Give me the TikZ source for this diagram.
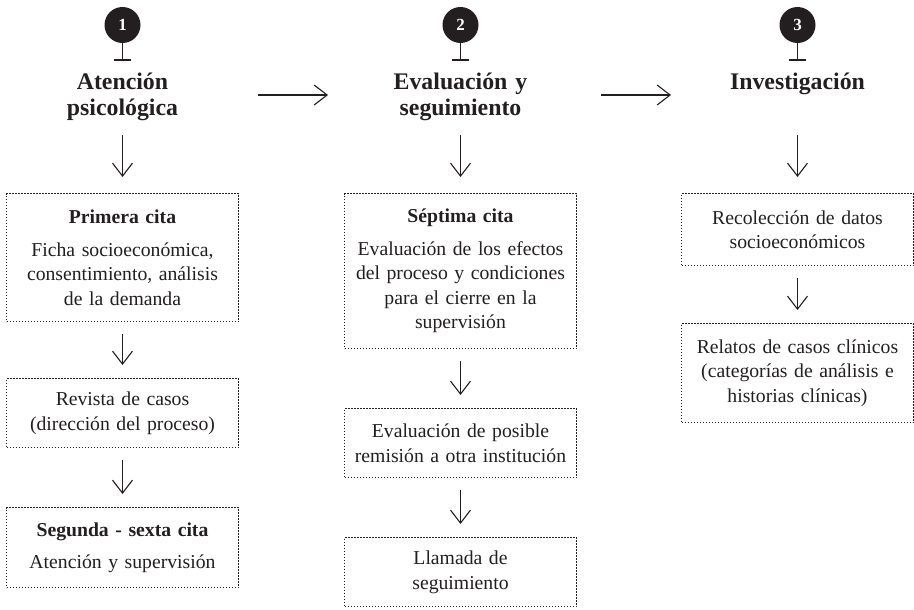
\documentclass[tikz,border=0pt]{standalone}
\usepackage{fontspec}
\setmainfont{Liberation Serif}[WordSpace=0.8]
\usetikzlibrary{arrows.meta}
\definecolor{ink}{HTML}{231F20}
\begin{document}
\begin{tikzpicture}[x=1pt,y=-1pt,
  box/.style={draw=ink, line width=1.1pt, dash pattern=on 1.1pt off 1.9pt, text=ink,
    anchor=north, text width=222pt, inner xsep=5pt, inner ysep=0pt, align=center,
    font=\fontsize{19.7}{24.5}\selectfont},
  ttl/.style={anchor=base, text width=222pt, align=center, inner sep=0pt, text=ink,
    font=\bfseries\fontsize{23.8}{25.5}\selectfont},
  num/.style={circle, fill=ink, minimum size=36pt, inner sep=0pt, text=white,
    font=\bfseries\fontsize{17}{17}\selectfont},
  arr/.style={draw=ink, line width=1.1pt, -{Straight Barb[length=13pt,width=20pt]}},
  gap/.style={shorten <=12pt, shorten >=13pt},
  stem/.style={draw=ink, line width=1.5pt, -{Bar[width=17pt]}}
]
\fill[white] (0,0) rectangle (914,610);
\useasboundingbox (0,0) rectangle (914,610);

% numbers
\node[num] (n1) at (122.5,25) {1};
\node[num] (n2) at (460.5,25) {2};
\node[num] (n3) at (797.5,25) {3};
\coordinate (s1) at (122.5,61);
\coordinate (s2) at (460.5,61);
\coordinate (s3) at (797.5,61);
\draw[stem] (n1.south) -- (s1);
\draw[stem] (n2.south) -- (s2);
\draw[stem] (n3.south) -- (s3);

% titles
\node[ttl] (t1) at (122.5,90) {Atención\\psicológica};
\node[ttl] (t2) at (460.5,90) {Evaluación y\\seguimiento};
\node[ttl] (t3) at (797.5,90) {Investigación};

% horizontal arrows
\coordinate (h1a) at (258,95);
\coordinate (h1b) at (328,95);
\coordinate (h2a) at (601,95);
\coordinate (h2b) at (671,95);
\draw[arr] (h1a) -- (h1b);
\draw[arr] (h2a) -- (h2b);

% column 1
\node[box, minimum height=128pt] (b11) at (122.5,193)
  {{\bfseries Primera cita}\\[8pt]Ficha socioeconómica,\\consentimiento, análisis\\de la demanda};
\node[box, minimum height=69pt] (b12) at (122.5,378)
  {Revista de casos\\(dirección del proceso)};
\node[box, minimum height=80pt] (b13) at (122.5,507)
  {{\bfseries Segunda - sexta cita}\\[8pt]Atención y supervisión};

% column 2
\node[box, minimum height=155pt] (b21) at (460.5,193)
  {{\bfseries Séptima cita}\\[8pt]Evaluación de los efectos\\del proceso y condiciones\\para el cierre en la\\supervisión};
\node[box, minimum height=69pt] (b22) at (460.5,408)
  {Evaluación de posible\\remisión a otra institución};
\node[box, minimum height=69pt] (b23) at (460.5,537)
  {Llamada de\\seguimiento};

% column 3
\node[box, minimum height=72pt] (b31) at (797.5,193)
  {Recolección de datos\\socioeconómicos};
\node[box, minimum height=99pt] (b32) at (797.5,323)
  {Relatos de casos clínicos\\(categorías de análisis e\\historias clínicas)};

% vertical arrows
\coordinate (d1) at (122.5,135);
\coordinate (d2) at (460.5,135);
\coordinate (d3) at (797.5,135);
\draw[arr, shorten >=16pt] (d1) -- (b11.north);
\draw[arr, shorten >=16pt] (d2) -- (b21.north);
\draw[arr, shorten >=16pt] (d3) -- (b31.north);
\draw[arr, gap] (b11.south) -- (b12.north);
\draw[arr, gap] (b12.south) -- (b13.north);
\draw[arr, gap] (b21.south) -- (b22.north);
\draw[arr, gap] (b22.south) -- (b23.north);
\draw[arr, gap] (b31.south) -- (b32.north);
\end{tikzpicture}
\end{document}
